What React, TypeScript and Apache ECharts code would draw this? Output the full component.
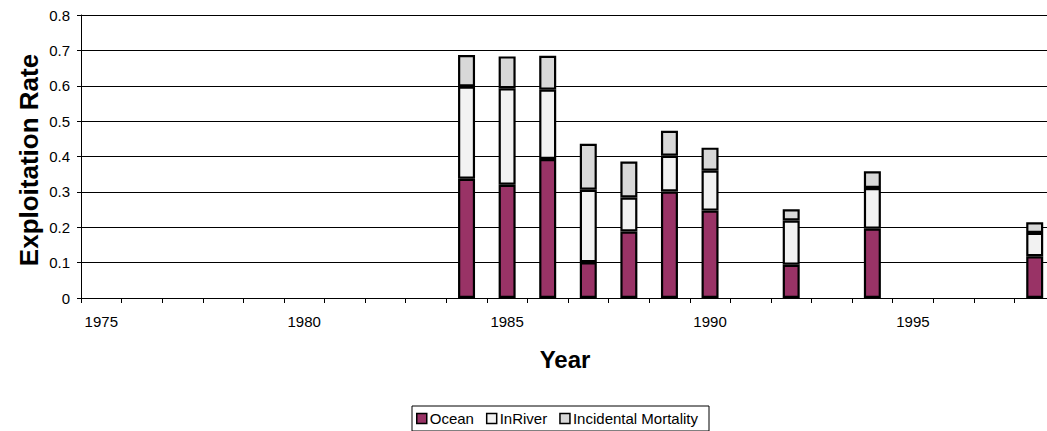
import React, { useEffect, useRef } from "react";
import * as echarts from "echarts";

const years = [
  "1975", "1976", "1977", "1978", "1979", "1980", "1981", "1982", "1983", "1984",
  "1985", "1986", "1987", "1988", "1989", "1990", "1991", "1992", "1993", "1994",
  "1995", "1996", "1997", "1998",
];

const ocean = [
  null, null, null, null, null, null, null, null, null, 0.337,
  0.32, 0.393, 0.101, 0.188, 0.301, 0.247, null, 0.094, null, 0.196,
  null, null, null, 0.118,
];

const inRiver = [
  null, null, null, null, null, null, null, null, null, 0.261,
  0.273, 0.196, 0.205, 0.096, 0.101, 0.113, null, 0.125, null, 0.115,
  null, null, null, 0.066,
];

const incidental = [
  null, null, null, null, null, null, null, null, null, 0.089,
  0.09, 0.096, 0.13, 0.102, 0.071, 0.065, null, 0.032, null, 0.047,
  null, null, null, 0.03,
];

const yTicks = [0, 0.1, 0.2, 0.3, 0.4, 0.5, 0.6, 0.7, 0.8];

const FONT = "'Liberation Sans', Arial, sans-serif";

export default function App() {
  const ref = useRef<HTMLDivElement>(null);

  useEffect(() => {
    if (!ref.current) return;
    const chart = echarts.init(ref.current, undefined, { renderer: "svg" });
    const barStyle = (color: string) => ({
      color,
      borderColor: "#000",
      borderWidth: 2.2,
    });
    chart.setOption({
      animation: false,
      textStyle: { fontFamily: FONT },
      grid: { left: 81, top: 15, right: 5, height: 283, containLabel: false },
      xAxis: {
        type: "category",
        data: years,
        boundaryGap: true,
        axisLine: { show: true, lineStyle: { color: "#000", width: 1 } },
        axisTick: { show: true, interval: 0, alignWithLabel: false, length: 5, lineStyle: { color: "#000" } },
        axisLabel: { interval: 4, margin: 16, fontSize: 15, color: "#000", fontFamily: FONT },
        splitLine: { show: false },
      },
      yAxis: {
        type: "value",
        min: yTicks[0],
        max: yTicks[yTicks.length - 1],
        interval: 0.1,
        axisLine: { show: true, lineStyle: { color: "#000", width: 1 } },
        axisTick: { show: true, inside: false, length: 4, lineStyle: { color: "#000" } },
        axisLabel: {
          margin: 11,
          fontSize: 15,
          color: "#000",
          fontFamily: FONT,
          formatter: (v: number) => String(Math.round(v * 10) / 10),
        },
        splitLine: { show: true, lineStyle: { color: "#000", width: 1 } },
      },
      legend: {
        left: 412,
        top: 406,
        padding: [5, 11, 5, 4],
        itemGap: 12,
        itemWidth: 10,
        itemHeight: 10,
        borderColor: "#000",
        borderWidth: 1,
        icon: "rect",
        itemStyle: { borderColor: "#000", borderWidth: 1.5 },
        textStyle: { fontSize: 15, color: "#000", fontFamily: FONT, padding: [0, 0, 0, -2] },
        data: ["Ocean", "InRiver", "Incidental Mortality"],
      },
      graphic: [
        {
          type: "text",
          x: 29,
          y: 160,
          rotation: Math.PI / 2,
          style: {
            text: "Exploitation Rate",
            font: `bold 26px ${FONT}`,
            fill: "#000",
            textAlign: "center",
            textVerticalAlign: "middle",
          },
        },
        {
          type: "text",
          x: 565,
          y: 359.5,
          style: {
            text: "Year",
            font: `bold 24px ${FONT}`,
            fill: "#000",
            textAlign: "center",
            textVerticalAlign: "middle",
          },
        },
      ],
      series: [
        {
          name: "Ocean",
          type: "bar",
          stack: "total",
          barWidth: 17,
          data: ocean,
          itemStyle: barStyle("#993366"),
        },
        {
          name: "InRiver",
          type: "bar",
          stack: "total",
          barWidth: 17,
          data: inRiver,
          itemStyle: barStyle("#F2F2F2"),
        },
        {
          name: "Incidental Mortality",
          type: "bar",
          stack: "total",
          barWidth: 17,
          data: incidental,
          itemStyle: barStyle("#D8D8D8"),
        },
      ],
    });
    return () => chart.dispose();
  }, []);

  return (
    <div
      style={{
        position: "fixed",
        left: 0,
        top: 0,
        width: 1047,
        height: 431,
        overflow: "hidden",
        background: "#fff",
      }}
    >
      <div ref={ref} style={{ width: 1060, height: 431 }} />
    </div>
  );
}
